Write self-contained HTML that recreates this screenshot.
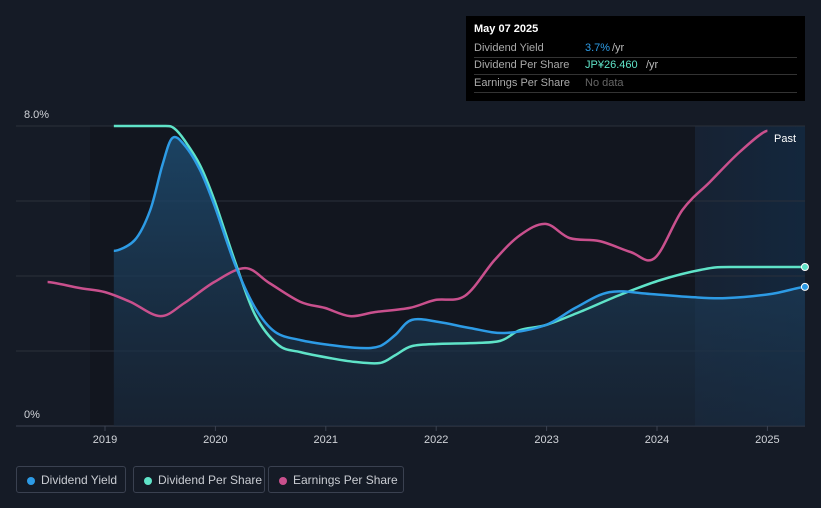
<!DOCTYPE html>
<html><head><meta charset="utf-8"><style>
body{margin:0;background:#151b26;font-family:"Liberation Sans",sans-serif;}
#wrap{position:relative;width:821px;height:508px;overflow:hidden;background:#151b26}
.tt{position:absolute;left:466px;top:16px;width:339px;height:85px;background:#000;color:#fff;font-size:11px}
.tt .r{position:absolute;left:8px;right:8px;height:17px;border-bottom:1px solid #333;line-height:17px}
.lg{position:absolute;top:466px;height:27px;border:1px solid #3a4150;border-radius:3px;color:#c9ccd2;font-size:12px;line-height:27px;padding-left:24px;box-sizing:border-box}
.lg i{position:absolute;left:10px;top:10px;width:8px;height:8px;border-radius:50%}
</style></head><body>
<div id="wrap">
<svg id="svg" width="821" height="508" style="position:absolute;left:0;top:0">
<defs><linearGradient id="g" x1="0" y1="0" x2="0" y2="1"><stop offset="0" stop-color="#1d4a6e" stop-opacity="0.85"/><stop offset="1" stop-color="#1a2a3d" stop-opacity="0.6"/></linearGradient>
<linearGradient id="pg" x1="0" y1="0" x2="1" y2="0"><stop offset="0" stop-color="#172233"/><stop offset="1" stop-color="#13273d"/></linearGradient></defs>
<rect x="90" y="126" width="715" height="300" fill="#12161f"/>
<rect x="695" y="126" width="110" height="300" fill="url(#pg)"/>
<g id="grid"></g><g id="series"></g><g id="axis"></g>
<text x="774" y="142" fill="#fff" font-size="11">Past</text>
</svg>
<div class="tt">
<div style="position:absolute;left:8px;top:7px;font-weight:bold;font-size:11px">May 07 2025</div>
<div class="r" style="top:24px"><span style="color:#aaa">Dividend Yield</span><span style="position:absolute;left:111px;color:#2d9be5">3.7%</span><span style="position:absolute;left:138px;color:#bbb">/yr</span></div>
<div class="r" style="top:41px"><span style="color:#aaa">Dividend Per Share</span><span style="position:absolute;left:111px;color:#5fe3c8">JP¥26.460</span><span style="position:absolute;left:172px;color:#bbb">/yr</span></div>
<div class="r" style="top:59px"><span style="color:#aaa">Earnings Per Share</span><span style="position:absolute;left:111px;color:#666">No data</span></div>
</div>
<div class="lg" style="left:16px;width:110px"><i style="background:#2d9be5"></i>Dividend Yield</div>
<div class="lg" style="left:133px;width:132px"><i style="background:#5fe3c8"></i>Dividend Per Share</div>
<div class="lg" style="left:268px;width:136px"><i style="background:#c9508d"></i>Earnings Per Share</div>
</div>
<script>
const yieldYears=[0.08,0.27,0.41,0.52,0.61,0.72,0.86,0.99,1.18,1.36,1.54,1.77,2.04,2.31,2.49,2.63,2.78,3.03,3.31,3.62,3.99,4.26,4.57,4.94,5.30,5.62,6.03,6.34];
const yieldVals=[4.67,4.96,5.76,6.96,7.68,7.49,6.83,5.89,4.29,3.15,2.51,2.29,2.16,2.08,2.13,2.43,2.83,2.77,2.61,2.48,2.69,3.15,3.57,3.52,3.44,3.41,3.52,3.71];
const dpsYears=[0.08,0.35,0.55,0.63,0.72,0.86,0.99,1.18,1.36,1.57,1.77,2.04,2.26,2.49,2.63,2.78,3.03,3.31,3.58,3.76,3.99,4.30,4.66,5.03,5.39,5.66,6.34];
const dpsVals=[8,8,8,7.93,7.62,6.96,6.03,4.37,2.96,2.16,1.97,1.81,1.71,1.68,1.89,2.13,2.19,2.21,2.27,2.56,2.69,3.04,3.49,3.89,4.16,4.24,4.24];
const epsYears=[-0.52,-0.23,0,0.23,0.50,0.72,0.99,1.27,1.49,1.77,1.99,2.22,2.45,2.76,2.99,3.26,3.53,3.76,3.99,4.21,4.48,4.76,4.98,5.23,5.48,5.75,6.0];
const epsVals=[3.84,3.68,3.57,3.31,2.93,3.28,3.84,4.21,3.81,3.31,3.15,2.93,3.04,3.15,3.36,3.47,4.43,5.09,5.39,5.01,4.93,4.64,4.48,5.76,6.51,7.31,7.87];
const xTicks=["2019","2020","2021","2022","2023","2024","2025"];
const yTicks=[0,2,4,6,8];
const NS="http://www.w3.org/2000/svg";
const X=t=>105+t*110.4, Y=v=>426-v*37.5;
function mk(tag,attrs,parent){const e=document.createElementNS(NS,tag);for(const k in attrs)e.setAttribute(k,attrs[k]);parent.appendChild(e);return e;}
function path(xs,vs){const p=xs.map((t,i)=>[X(t),Y(vs[i])]);let d="M"+p[0];for(let i=0;i<p.length-1;i++){const a=p[i-1]||p[i],b=p[i],c=p[i+1],e=p[i+2]||c;const k=6;
let y1=b[1]+(c[1]-a[1])/k,y2=c[1]-(e[1]-b[1])/k;const lo=Math.min(b[1],c[1]),hi=Math.max(b[1],c[1]);
if(b[1]==a[1]||b[1]==c[1])y1=b[1];if(c[1]==e[1]||c[1]==b[1])y2=c[1];
d+=" C"+(b[0]+(c[0]-a[0])/k)+","+y1+" "+(c[0]-(e[0]-b[0])/k)+","+y2+" "+c[0]+","+c[1];}return d;}
const grid=document.getElementById('grid'),ser=document.getElementById('series'),ax=document.getElementById('axis');
yTicks.forEach(v=>{const l=mk('line',{x1:16,x2:805,y1:Y(v),y2:Y(v),stroke:v==0?'#3a4150':'#2a303b','stroke-width':1},grid);

});
[[0,"0%"],[8,"8.0%"]].forEach(([v,s])=>{const t=mk('text',{x:24,y:Y(v)-8,fill:'#d0d3d8','font-size':11},ax);t.textContent=s;

});
xTicks.forEach((s,i)=>{mk('line',{x1:X(i),x2:X(i),y1:426,y2:431,stroke:'#3a4150'},ax);const t=mk('text',{x:X(i),y:443,fill:'#d0d3d8','font-size':11,'text-anchor':'middle'},ax);t.textContent=s;

});
const dy=path(yieldYears,yieldVals);
const area=mk('path',{d:dy+" L"+X(yieldYears[yieldYears.length-1])+",426 L"+X(yieldYears[0])+",426 Z",fill:'url(#g)'},ser);


const ep=mk('path',{d:path(epsYears,epsVals),fill:'none',stroke:'#c9508d','stroke-width':2.5},ser);


const dp=mk('path',{d:path(dpsYears,dpsVals),fill:'none',stroke:'#5fe3c8','stroke-width':2.5},ser);


const yl=mk('path',{d:dy,fill:'none',stroke:'#2d9be5','stroke-width':2.5},ser);


const c1=mk('circle',{cx:X(dpsYears[dpsYears.length-1]),cy:Y(dpsVals[dpsVals.length-1]),r:3.5,fill:'#5fe3c8',stroke:'#fff','stroke-width':1},ser);


const c2=mk('circle',{cx:X(yieldYears[yieldYears.length-1]),cy:Y(yieldVals[yieldVals.length-1]),r:3.5,fill:'#2d9be5',stroke:'#fff','stroke-width':1},ser);


</script>
</body></html>
